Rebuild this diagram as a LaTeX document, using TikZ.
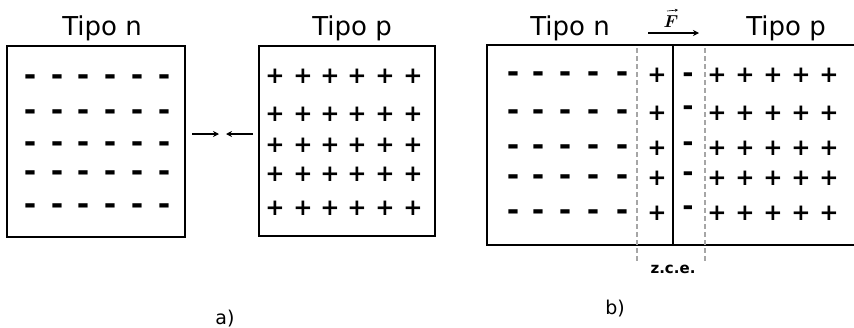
\documentclass[tikz,border=0pt]{standalone}
\usepackage{amsmath}
\usepackage{fontspec}
\setmainfont{DejaVu Sans}
\newfontfamily\chgfont{DejaVu Sans Bold}
\usetikzlibrary{arrows.meta}
\tikzset{
  boxline/.style={draw, line width=1.6pt},
  title/.style={font=\fontsize{26}{26}\selectfont, anchor=base, inner sep=0pt},
  pls/.style={font=\chgfont\fontsize{23}{23}\selectfont, inner sep=0pt, anchor=center},
  mns/.style={font=\chgfont\fontsize{30}{30}\selectfont, inner sep=0pt, anchor=base, yshift=-8.8pt, text height=11pt, text depth=0pt},
  smns/.style={font=\chgfont\fontsize{27}{27}\selectfont, inner sep=0pt, anchor=base, yshift=-8pt, text height=10pt, text depth=0pt},
  zone/.style={draw=gray!70, line width=1.1pt, dash pattern=on 5pt off 3pt},
  arr/.style={line width=1.3pt, -{Stealth[length=6pt,width=6pt]}},
  caption/.style={font=\fontsize{19}{19}\selectfont, anchor=base, inner sep=0pt}
}
\begin{document}
\begin{tikzpicture}[x=1pt,y=-1pt]
\useasboundingbox (0,0) rectangle (854,327);
% ---------- panel a ----------
\node[title] (tna) at (102,35) {Tipo n};
\node[title] (tpa) at (352,35) {Tipo p};
\node[boxline, minimum width=178pt, minimum height=191pt, inner sep=0pt] (boxn) at (96,141.5) {};
\node[boxline, minimum width=176pt, minimum height=190pt, inner sep=0pt] (boxp) at (347,141) {};
\foreach \r/\y in {1/77,2/112,3/144,4/173,5/206}{
  \foreach \c/\x in {1/30,2/57,3/83,4/110,5/137,6/164}{
    \node[mns] (ma\r\c) at (\x,\y) {-};
  }
}
\foreach \r/\y in {1/76,2/114,3/145,4/174,5/208}{
  \foreach \c/\x in {1/275,2/303,3/330,4/357,5/385,6/413}{
    \node[pls] (pa\r\c) at (\x,\y) {+};
  }
}
\coordinate (a1s) at (192,134);
\coordinate (a1e) at (219,134);
\coordinate (a2s) at (253,134);
\coordinate (a2e) at (226,134);
\draw[arr] (a1s) -- (a1e);
\draw[arr] (a2s) -- (a2e);
\node[caption] (capa) at (225,324) {a)};
% ---------- panel b ----------
\node[title] (tnb) at (570,35) {Tipo n};
\node[title] (tpb) at (786,35) {Tipo p};
\coordinate (bTR) at (855,45);
\coordinate (bTL) at (487,45);
\coordinate (bBL) at (487,245);
\coordinate (bBR) at (855,245);
\draw[line width=1.6pt] (bTR) -- (bTL) -- (bBL) -- (bBR);
\coordinate (jt) at (673,45);
\coordinate (jb) at (673,245);
\draw[line width=2.2pt] (jt) -- (jb);
\coordinate (z1t) at (637,48);
\coordinate (z1b) at (637,262);
\coordinate (z2t) at (705,48);
\coordinate (z2b) at (705,262);
\draw[zone] (z1t) -- (z1b);
\draw[zone] (z2t) -- (z2b);
\foreach \r/\y in {1/74,2/112,3/147,4/177,5/212}{
  \foreach \c/\x in {1/513,2/538,3/565,4/593,5/622}{
    \node[mns] (mb\r\c) at (\x,\y) {-};
  }
}
\foreach \r/\y in {1/75,2/113,3/148,4/178,5/213}{
  \node[pls] (zp\r) at (657,\y) {+};
  \foreach \c/\x in {1/717,2/745,3/773,4/801,5/829}{
    \node[pls] (pb\r\c) at (\x,\y) {+};
  }
}
\node[smns] (zm1) at (688,74) {-};
\node[smns] (zm2) at (688,107) {-};
\node[smns] (zm3) at (688,143) {-};
\node[smns] (zm4) at (688,173) {-};
\node[smns] (zm5) at (688,207) {-};
\coordinate (fs) at (648,33);
\coordinate (fe) at (699,33);
\draw[arr] (fs) -- (fe);
\node[font=\fontsize{19}{19}\selectfont, inner sep=0pt, anchor=base] (flab) at (671,27) {$\boldsymbol{F}$};
\coordinate (vs) at (667,11);
\coordinate (ve) at (678,10);
\draw[line width=0.6pt, -{Stealth[length=3pt,width=3pt]}] (vs) -- (ve);
\node[font=\chgfont\fontsize{15}{15}\selectfont, inner sep=0pt, anchor=base] (zce) at (673,273) {z.c.e.};
\node[caption] (capb) at (615,314) {b)};
\end{tikzpicture}
\end{document}
